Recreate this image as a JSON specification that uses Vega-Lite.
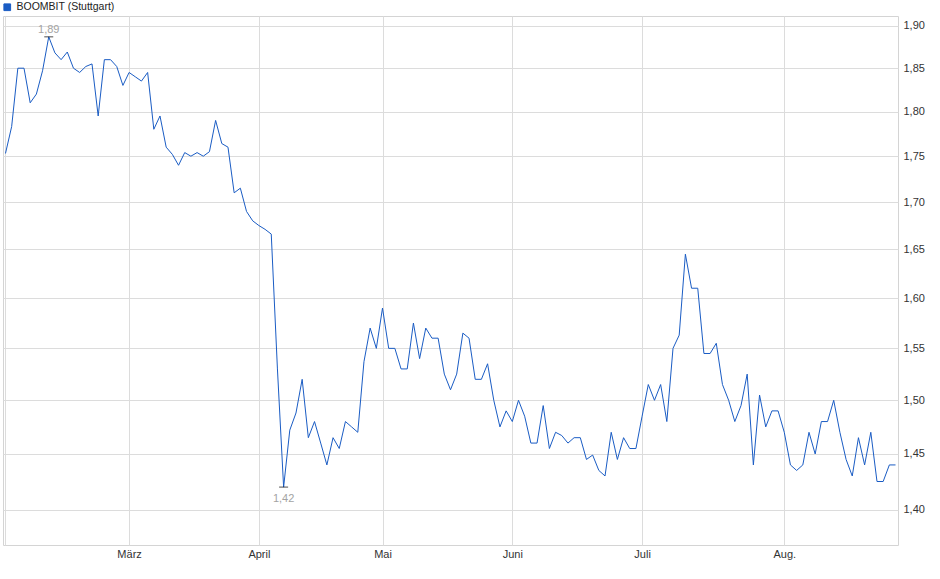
{
  "$schema": "https://vega.github.io/schema/vega-lite/v6.json",
  "description": "BOOMBIT (Stuttgart) share price, Feb to Aug 2025.",
  "width": 895,
  "height": 529,
  "autosize": "none",
  "padding": {"left": 3, "top": 16, "right": 42, "bottom": 34},
  "background": "white",
  "config": {
    "view": {"stroke": "#d4d4d4"},
    "font": "Liberation Sans",
    "axis": {"labelFont": "Liberation Sans", "labelFontSize": 11, "labelColor": "#333333", "gridColor": "#dcdcdc", "gridWidth": 1}
  },
  "data": {
    "values": [
      {"d": "2025-02-03", "v": 1.753}, {"d": "2025-02-04", "v": 1.783}, {"d": "2025-02-05", "v": 1.85}, {"d": "2025-02-06", "v": 1.85},
      {"d": "2025-02-07", "v": 1.81}, {"d": "2025-02-10", "v": 1.82}, {"d": "2025-02-11", "v": 1.847}, {"d": "2025-02-12", "v": 1.887},
      {"d": "2025-02-13", "v": 1.868}, {"d": "2025-02-14", "v": 1.86}, {"d": "2025-02-17", "v": 1.869}, {"d": "2025-02-18", "v": 1.85},
      {"d": "2025-02-19", "v": 1.845}, {"d": "2025-02-20", "v": 1.852}, {"d": "2025-02-21", "v": 1.855}, {"d": "2025-02-24", "v": 1.795},
      {"d": "2025-02-25", "v": 1.86}, {"d": "2025-02-26", "v": 1.86}, {"d": "2025-02-27", "v": 1.852}, {"d": "2025-02-28", "v": 1.83},
      {"d": "2025-03-03", "v": 1.845}, {"d": "2025-03-04", "v": 1.84}, {"d": "2025-03-05", "v": 1.835}, {"d": "2025-03-06", "v": 1.845},
      {"d": "2025-03-07", "v": 1.78}, {"d": "2025-03-10", "v": 1.795}, {"d": "2025-03-11", "v": 1.76}, {"d": "2025-03-12", "v": 1.752},
      {"d": "2025-03-13", "v": 1.74}, {"d": "2025-03-14", "v": 1.754}, {"d": "2025-03-17", "v": 1.75}, {"d": "2025-03-18", "v": 1.754},
      {"d": "2025-03-19", "v": 1.75}, {"d": "2025-03-20", "v": 1.755}, {"d": "2025-03-21", "v": 1.79}, {"d": "2025-03-24", "v": 1.764},
      {"d": "2025-03-25", "v": 1.76}, {"d": "2025-03-26", "v": 1.71}, {"d": "2025-03-27", "v": 1.715}, {"d": "2025-03-28", "v": 1.69},
      {"d": "2025-03-31", "v": 1.68},
      {"d": "2025-04-01", "v": 1.675}, {"d": "2025-04-02", "v": 1.671}, {"d": "2025-04-03", "v": 1.666}, {"d": "2025-04-04", "v": 1.53},
      {"d": "2025-04-07", "v": 1.42}, {"d": "2025-04-08", "v": 1.472}, {"d": "2025-04-09", "v": 1.488}, {"d": "2025-04-10", "v": 1.52},
      {"d": "2025-04-11", "v": 1.465}, {"d": "2025-04-14", "v": 1.48}, {"d": "2025-04-15", "v": 1.46}, {"d": "2025-04-16", "v": 1.44},
      {"d": "2025-04-17", "v": 1.465}, {"d": "2025-04-22", "v": 1.455}, {"d": "2025-04-23", "v": 1.48}, {"d": "2025-04-24", "v": 1.475},
      {"d": "2025-04-25", "v": 1.47}, {"d": "2025-04-28", "v": 1.537}, {"d": "2025-04-29", "v": 1.57}, {"d": "2025-04-30", "v": 1.55},
      {"d": "2025-05-02", "v": 1.59}, {"d": "2025-05-05", "v": 1.55}, {"d": "2025-05-06", "v": 1.55}, {"d": "2025-05-07", "v": 1.53},
      {"d": "2025-05-08", "v": 1.53}, {"d": "2025-05-09", "v": 1.575}, {"d": "2025-05-12", "v": 1.54}, {"d": "2025-05-13", "v": 1.57},
      {"d": "2025-05-14", "v": 1.56}, {"d": "2025-05-15", "v": 1.56}, {"d": "2025-05-16", "v": 1.525}, {"d": "2025-05-19", "v": 1.51},
      {"d": "2025-05-20", "v": 1.525}, {"d": "2025-05-21", "v": 1.565}, {"d": "2025-05-22", "v": 1.56}, {"d": "2025-05-23", "v": 1.52},
      {"d": "2025-05-26", "v": 1.52}, {"d": "2025-05-27", "v": 1.535}, {"d": "2025-05-28", "v": 1.5}, {"d": "2025-05-29", "v": 1.475},
      {"d": "2025-05-30", "v": 1.49},
      {"d": "2025-06-02", "v": 1.48}, {"d": "2025-06-03", "v": 1.5}, {"d": "2025-06-04", "v": 1.485}, {"d": "2025-06-05", "v": 1.46},
      {"d": "2025-06-06", "v": 1.46}, {"d": "2025-06-09", "v": 1.495}, {"d": "2025-06-10", "v": 1.455}, {"d": "2025-06-11", "v": 1.47},
      {"d": "2025-06-12", "v": 1.467}, {"d": "2025-06-13", "v": 1.46}, {"d": "2025-06-16", "v": 1.465}, {"d": "2025-06-17", "v": 1.465},
      {"d": "2025-06-18", "v": 1.445}, {"d": "2025-06-19", "v": 1.449}, {"d": "2025-06-20", "v": 1.435}, {"d": "2025-06-23", "v": 1.43},
      {"d": "2025-06-24", "v": 1.47}, {"d": "2025-06-25", "v": 1.445}, {"d": "2025-06-26", "v": 1.465}, {"d": "2025-06-27", "v": 1.455},
      {"d": "2025-06-30", "v": 1.455},
      {"d": "2025-07-01", "v": 1.485}, {"d": "2025-07-02", "v": 1.515}, {"d": "2025-07-03", "v": 1.5}, {"d": "2025-07-04", "v": 1.515},
      {"d": "2025-07-07", "v": 1.48}, {"d": "2025-07-08", "v": 1.55}, {"d": "2025-07-09", "v": 1.563}, {"d": "2025-07-10", "v": 1.645},
      {"d": "2025-07-11", "v": 1.61}, {"d": "2025-07-14", "v": 1.61}, {"d": "2025-07-15", "v": 1.545}, {"d": "2025-07-16", "v": 1.545},
      {"d": "2025-07-17", "v": 1.555}, {"d": "2025-07-18", "v": 1.515}, {"d": "2025-07-21", "v": 1.5}, {"d": "2025-07-22", "v": 1.48},
      {"d": "2025-07-23", "v": 1.495}, {"d": "2025-07-24", "v": 1.525}, {"d": "2025-07-25", "v": 1.44}, {"d": "2025-07-28", "v": 1.505},
      {"d": "2025-07-29", "v": 1.475}, {"d": "2025-07-30", "v": 1.49}, {"d": "2025-07-31", "v": 1.49},
      {"d": "2025-08-01", "v": 1.47}, {"d": "2025-08-04", "v": 1.44}, {"d": "2025-08-05", "v": 1.435}, {"d": "2025-08-06", "v": 1.44},
      {"d": "2025-08-07", "v": 1.47}, {"d": "2025-08-08", "v": 1.45}, {"d": "2025-08-11", "v": 1.48}, {"d": "2025-08-12", "v": 1.48},
      {"d": "2025-08-13", "v": 1.5}, {"d": "2025-08-14", "v": 1.47}, {"d": "2025-08-15", "v": 1.445}, {"d": "2025-08-18", "v": 1.43},
      {"d": "2025-08-19", "v": 1.465}, {"d": "2025-08-20", "v": 1.44}, {"d": "2025-08-21", "v": 1.47}, {"d": "2025-08-22", "v": 1.425},
      {"d": "2025-08-25", "v": 1.425}, {"d": "2025-08-26", "v": 1.44}, {"d": "2025-08-27", "v": 1.44}
    ]
  },
  "transform": [
    {"joinaggregate": [{"op": "max", "field": "v", "as": "vmax"}, {"op": "min", "field": "v", "as": "vmin"}]},
    {"calculate": "replace(format(datum.v, '.2f'), '.', ',')", "as": "lbl"}
  ],
  "encoding": {
    "x": {
      "field": "d",
      "type": "ordinal",
      "sort": "ascending",
      "scale": {"type": "point", "padding": 0.4},
      "axis": {
        "title": null,
        "labelAngle": 0,
        "domain": false,
        "ticks": false,
        "labelPadding": 3,
        "values": ["2025-02-03", "2025-03-03", "2025-04-01", "2025-05-02", "2025-06-02", "2025-07-01", "2025-08-01"],
        "labelExpr": "['', '', '', 'März', 'April', 'Mai', 'Juni', 'Juli', 'Aug.'][toNumber(substring(datum.value, 5, 7))]",
        "grid": true
      }
    },
    "y": {
      "field": "v",
      "type": "quantitative",
      "scale": {"type": "log", "domain": [1.369, 1.912], "nice": false, "zero": false},
      "axis": {
        "title": null,
        "orient": "right",
        "domain": false,
        "ticks": false,
        "labelPadding": 5,
        "values": [1.4, 1.45, 1.5, 1.55, 1.6, 1.65, 1.7, 1.75, 1.8, 1.85, 1.9],
        "labelExpr": "replace(format(datum.value, '.2f'), '.', ',')",
        "grid": true
      }
    }
  },
  "layer": [
    {
      "mark": {"type": "line", "strokeWidth": 1, "interpolate": "linear"},
      "encoding": {
        "color": {
          "datum": "BOOMBIT (Stuttgart)",
          "scale": {"range": ["#1a5cc4"]},
          "legend": {
            "title": null,
            "orient": "none",
            "legendX": -1,
            "legendY": -14,
            "padding": 0,
            "symbolType": "square",
            "symbolSize": 45,
            "symbolFillColor": "#1a5cc4",
            "symbolStrokeColor": "#103d8c",
            "symbolStrokeWidth": 1,
            "labelFont": "Liberation Sans",
            "labelFontSize": 10.5,
            "labelColor": "#222222",
            "labelOffset": 4
          }
        }
      }
    },
    {
      "transform": [{"filter": "datum.v == datum.vmax || datum.v == datum.vmin"}],
      "mark": {"type": "tick", "color": "#000000", "size": 9, "thickness": 1, "orient": "horizontal"}
    },
    {
      "transform": [{"filter": "datum.v == datum.vmax"}],
      "mark": {"type": "text", "dy": -7, "fontSize": 11, "color": "#a3a3a3", "font": "Liberation Sans"},
      "encoding": {"text": {"field": "lbl"}}
    },
    {
      "transform": [{"filter": "datum.v == datum.vmin"}],
      "mark": {"type": "text", "dy": 12, "fontSize": 11, "color": "#a3a3a3", "font": "Liberation Sans"},
      "encoding": {"text": {"field": "lbl"}}
    }
  ]
}
